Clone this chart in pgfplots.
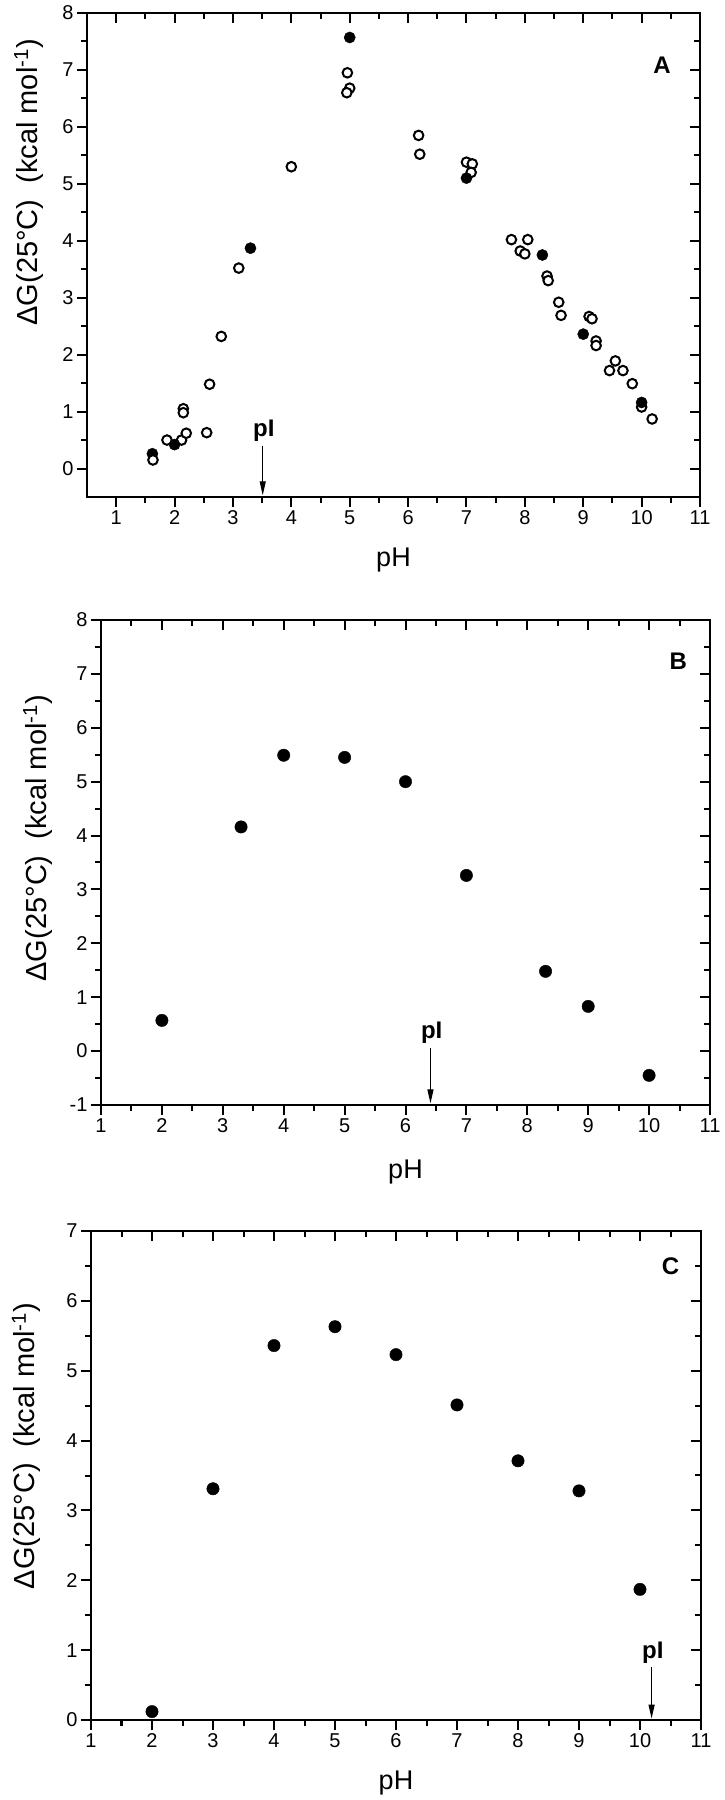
\documentclass[border=0pt]{standalone}
\usepackage{fontspec}
\setmainfont{Liberation Sans}
\usepackage{pgfplots}
\pgfplotsset{compat=1.18}
\usetikzlibrary{arrows.meta}

\pgfplotsset{
 base/.style={
   scale only axis,
   anchor=south west,
   axis line style={line width=2pt},
   tick style={line width=2pt, black},
   major tick length=10pt,
   minor tick length=6pt,
   minor x tick num=1, minor y tick num=1,
   tick label style={font=\fontsize{20}{20}\selectfont},
   /pgf/number format/assume math mode=true,
   xlabel style={font=\fontsize{27}{27}\selectfont},
   ylabel style={font=\fontsize{29}{29}\selectfont},
   clip=false,
 },
 outer/.style={base, tick align=outside, xtick pos=left, ytick pos=left},
 inner/.style={base, tick align=inside, xtick pos=right, ytick pos=right, xticklabels={}, yticklabels={}},
 openc/.style={only marks, mark=*, mark size=4.8pt, mark options={fill=white, draw=black, line width=2pt}},
 fillc/.style={only marks, mark=*, mark size=5.6pt, mark options={fill=black, draw=black}},
 fillb/.style={only marks, mark=*, mark size=6.2pt, mark options={fill=black, draw=black}},
}
\newcommand{\ylab}{ΔG(25°C)\ \ (kcal mol\textsuperscript{-1})}
\tikzset{pIarrow/.style={-{Triangle[length=14pt,width=6pt]}, line width=1.2pt},
         pItext/.style={font=\bfseries\fontsize{24}{24}\selectfont, anchor=south},
         paneltext/.style={font=\bfseries\fontsize{24}{24}\selectfont}}

\begin{document}
\begin{tikzpicture}
\path[use as bounding box] (0pt,0pt) rectangle (724pt,1800pt);

% ---------------- Panel A ----------------
\begin{axis}[outer, at={(87pt,1303pt)}, width=613pt, height=484pt,
  xmin=0.5, xmax=11, ymin=-0.5, ymax=8,
  xtick={1,...,11}, ytick={0,...,8},
  xlabel={pH}, ylabel={\ylab},
  xlabel style={at={(axis description cs:0.5,-0.13)}, anchor=center},
  ylabel style={at={(axis description cs:-0.095,0.65)}, anchor=center}]
\addplot[fillc] coordinates {(1.62,0.26)};
\addplot[openc] coordinates {
(1.63,0.15) (1.87,0.50) (2.12,0.50) (2.15,1.05) (2.15,0.98) (2.20,0.62)
(2.55,0.63) (2.60,1.48) (2.80,2.32) (3.10,3.52) (4.00,5.30) (4.96,6.95)
(5.00,6.68) (4.95,6.60) (6.18,5.85) (6.20,5.52) (7.00,5.38) (7.10,5.35)
(7.08,5.20) (7.77,4.02) (8.05,4.02) (7.92,3.82) (8.00,3.77) (8.38,3.38)
(8.40,3.30) (8.58,2.92) (8.62,2.69) (9.10,2.67) (9.15,2.63) (9.22,2.24)
(9.22,2.16) (9.55,1.89) (9.45,1.72) (9.68,1.72) (9.84,1.49) (10.00,1.08)
(10.18,0.87)};
\addplot[fillc] coordinates {(2.0,0.42) (3.3,3.87) (5.0,7.57) (7.0,5.10) (8.3,3.75) (9.0,2.36) (10.0,1.16)};
\draw[pIarrow] (axis cs:3.51,0.40) -- (axis cs:3.51,-0.47);
\node[pItext] at (axis cs:3.53,0.42) {pI};
\node[paneltext] at (axis cs:10.35,7.09) {A};
\end{axis}
\begin{axis}[inner, at={(87pt,1303pt)}, width=613pt, height=484pt,
  xmin=0.5, xmax=11, ymin=-0.5, ymax=8,
  xtick={1,...,11}, ytick={0,...,8}]
\end{axis}

% ---------------- Panel B ----------------
\begin{axis}[outer, at={(101pt,695pt)}, width=609pt, height=485pt,
  xmin=1, xmax=11, ymin=-1, ymax=8,
  xtick={1,...,11}, ytick={-1,...,8},
  xlabel={pH}, ylabel={\ylab},
  xlabel style={at={(axis description cs:0.5,-0.138)}, anchor=center},
  ylabel style={at={(axis description cs:-0.104,0.55)}, anchor=center}]
\addplot[fillb] coordinates {(2,0.57) (3.3,4.16) (4,5.49) (5,5.45) (6,5.00) (7,3.26) (8.3,1.48) (9,0.83) (10,-0.45)};
\draw[pIarrow] (axis cs:6.41,0.05) -- (axis cs:6.41,-0.97);
\node[pItext] at (axis cs:6.43,0.07) {pI};
\node[paneltext] at (axis cs:10.48,7.24) {B};
\end{axis}
\begin{axis}[inner, at={(101pt,695pt)}, width=609pt, height=485pt,
  xmin=1, xmax=11, ymin=-1, ymax=8,
  xtick={1,...,11}, ytick={-1,...,8}]
\end{axis}

% ---------------- Panel C ----------------
\begin{axis}[outer, at={(91pt,80pt)}, width=610pt, height=489pt,
  xmin=1, xmax=11, ymin=0, ymax=7,
  xtick={1,...,11}, ytick={0,...,7},
  xlabel={pH}, ylabel={\ylab},
  xlabel style={at={(axis description cs:0.5,-0.129)}, anchor=center},
  ylabel style={at={(axis description cs:-0.106,0.56)}, anchor=center}]
\addplot[fillb] coordinates {(2,0.12) (3,3.31) (4,5.36) (5,5.63) (6,5.23) (7,4.51) (8,3.71) (9,3.28) (10,1.87)};
\draw[pIarrow] (axis cs:10.19,0.76) -- (axis cs:10.19,0.02);
\node[pItext] at (axis cs:10.21,0.76) {pI};
\node[paneltext] at (axis cs:10.5,6.5) {C};
\end{axis}
\begin{axis}[inner, at={(91pt,80pt)}, width=610pt, height=489pt,
  xmin=1, xmax=11, ymin=0, ymax=7,
  xtick={1,...,11}, ytick={0,...,7}]
\end{axis}
\end{tikzpicture}
\end{document}
